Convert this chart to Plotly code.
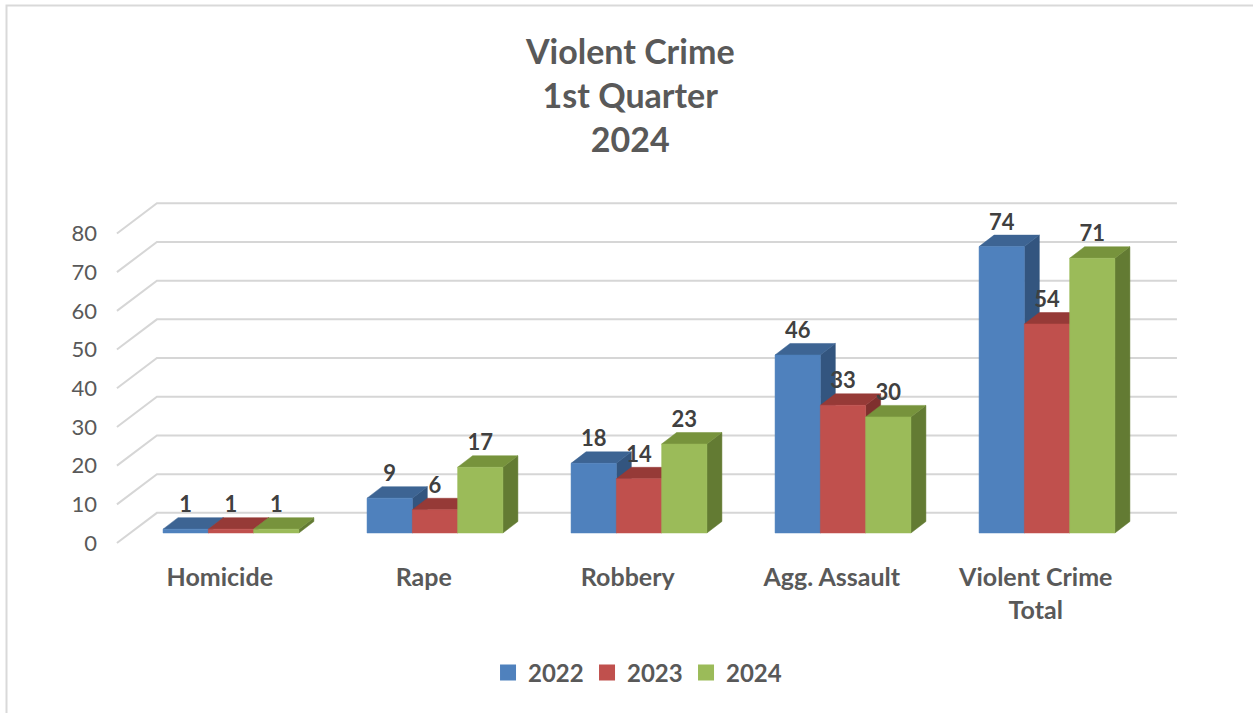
import plotly.graph_objects as go

# ---------------- data ----------------
categories = ["Homicide", "Rape", "Robbery", "Agg. Assault", "Violent Crime Total"]
category_labels = ["Homicide", "Rape", "Robbery", "Agg. Assault", "Violent Crime<br>Total"]
years = ["2022", "2023", "2024"]
values_2022 = [1, 9, 18, 46, 74]
values_2023 = [1, 6, 14, 33, 54]
values_2024 = [1, 17, 23, 30, 71]
y_tick_values = [0, 10, 20, 30, 40, 50, 60, 70, 80]

series = [values_2022, values_2023, values_2024]

# ---------------- style ----------------
FONT = "Lato"
TEXT_GRAY = "#595959"
LABEL_DARK = "#404040"
GRID_COLOR = "#D6D6D6"
front_colors = ["#4F81BD", "#C0504D", "#9BBB59"]
top_colors = ["#3D6493", "#963A37", "#77933C"]
side_colors = ["#33557F", "#7F302E", "#637B33"]

# 3-D pseudo-perspective geometry (axis units)
BAR_W = 0.222          # width of one bar (category units)
DEPTH_X = 0.0735       # bar depth, horizontal component
DEPTH_Y = 2.97         # bar depth, vertical component
FLOOR_FRONT = -2.6     # front edge of the floor relative to bar base
BACK_WALL = 5.2        # back wall relative to bar base
GRID_X_FRONT = -0.559
GRID_X_BACK = -0.363
GRID_X_RIGHT = 4.637
LABEL_SHIFT = -0.055

fig = go.Figure()

# back-wall gridlines with slanted floor-side segment
gx, gy = [], []
for t in y_tick_values:
    gx += [GRID_X_FRONT, GRID_X_BACK, GRID_X_RIGHT, None]
    gy += [t + FLOOR_FRONT, t + BACK_WALL, t + BACK_WALL, None]
fig.add_trace(go.Scatter(x=gx, y=gy, mode="lines",
                         line=dict(color=GRID_COLOR, width=2),
                         hoverinfo="skip", showlegend=False))

# bars as 3-D boxes (side, top, front), drawn series by series
for k, vals in enumerate(series):
    sx, sy, tx, ty, fx, fy = [], [], [], [], [], []
    for i, v in enumerate(vals):
        x0 = i + (k - 1.5) * BAR_W
        x1 = x0 + BAR_W
        # side face
        sx += [x1, x1, x1 + DEPTH_X, x1 + DEPTH_X, x1, None]
        sy += [0, v, v + DEPTH_Y, DEPTH_Y, 0, None]
        # top face
        tx += [x0, x1, x1 + DEPTH_X, x0 + DEPTH_X, x0, None]
        ty += [v, v, v + DEPTH_Y, v + DEPTH_Y, v, None]
        # front face
        fx += [x0, x1, x1, x0, x0, None]
        fy += [0, 0, v, v, 0, None]
    fig.add_trace(go.Scatter(x=sx, y=sy, mode="lines", fill="toself",
                             fillcolor=side_colors[k],
                             line=dict(color=side_colors[k], width=0.5),
                             hoverinfo="skip", showlegend=False))
    fig.add_trace(go.Scatter(x=tx, y=ty, mode="lines", fill="toself",
                             fillcolor=top_colors[k],
                             line=dict(color=top_colors[k], width=0.5),
                             hoverinfo="skip", showlegend=False))
    fig.add_trace(go.Scatter(x=fx, y=fy, mode="lines", fill="toself",
                             fillcolor=front_colors[k],
                             line=dict(color=front_colors[k], width=0.5),
                             name=years[k], hoverinfo="skip", showlegend=False))

# data labels
for k, vals in enumerate(series):
    lx = [i + (k - 1) * BAR_W for i in range(len(vals))]
    ly = [v + DEPTH_Y for v in vals]
    fig.add_trace(go.Scatter(x=lx, y=ly, mode="text", text=[str(v) for v in vals],
                             textposition="top center",
                             textfont=dict(family=FONT, size=22, color=LABEL_DARK, weight="bold"),
                             hoverinfo="skip", showlegend=False))

# legend entries
for k, yr in enumerate(years):
    fig.add_trace(go.Scatter(x=[None], y=[None], mode="markers", name=yr,
                             marker=dict(symbol="square", size=16, color=front_colors[k])))

fig.update_layout(
    width=1253, height=713, autosize=False,
    margin=dict(l=100, r=63, t=190, b=153),
    paper_bgcolor="white", plot_bgcolor="white",
    title=dict(text="<b>Violent Crime<br>1st Quarter<br>2024</b>",
               font=dict(family=FONT, size=34, color=TEXT_GRAY),
               x=0.503, xref="container", xanchor="center",
               y=1 - 64 / 713, yref="container", yanchor="middle"),
    xaxis=dict(range=[-0.642, 4.701], showgrid=False, zeroline=False, showline=False,
               tickmode="array",
               tickvals=[i + LABEL_SHIFT for i in range(len(categories))],
               ticktext=category_labels,
               tickfont=dict(family=FONT, size=25, color=TEXT_GRAY, weight="bold"),
               ticks="", fixedrange=True),
    yaxis=dict(range=[-6.977, 88.63], showgrid=False, zeroline=False, showline=False,
               tickmode="array",
               tickvals=[t + FLOOR_FRONT for t in y_tick_values],
               ticktext=[str(t) for t in y_tick_values],
               tickfont=dict(family=FONT, size=22, color=TEXT_GRAY),
               ticks="", ticklabelstandoff=2, fixedrange=True),
    legend=dict(orientation="h", xref="container", yref="container",
                x=0.508, xanchor="center", y=40 / 713, yanchor="middle",
                font=dict(family=FONT, size=24, color=TEXT_GRAY, weight="bold"),
                entrywidth=54, itemclick=False, itemdoubleclick=False),
    shapes=[dict(type="rect", xref="paper", yref="paper",
                 x0=(6.5 - 100) / 1090, x1=2.0,
                 y0=-2.0, y1=(560 - 5.5) / 370,
                 line=dict(color="#D9D9D9", width=2), layer="below")],
    showlegend=True,
)

fig.write_html("out.html")
